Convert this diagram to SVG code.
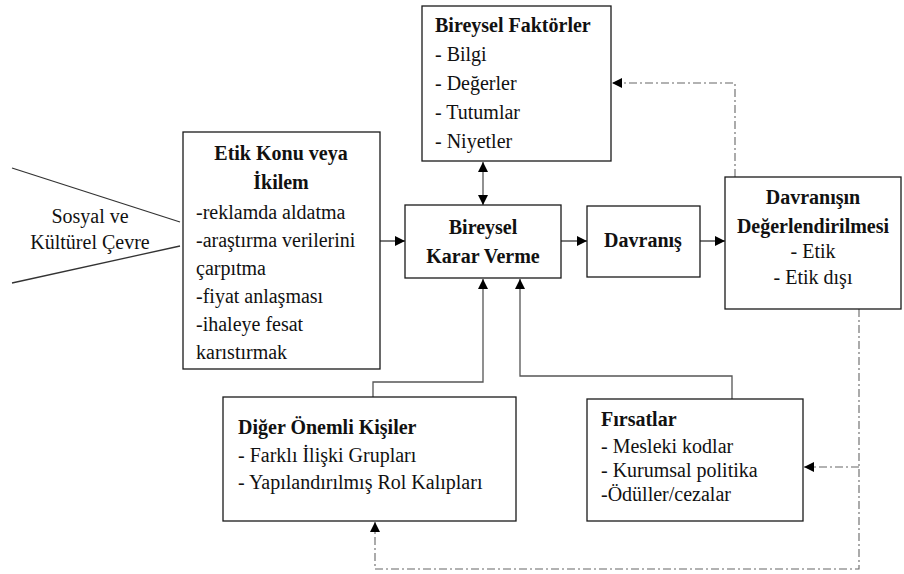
<svg xmlns="http://www.w3.org/2000/svg" width="904" height="574" viewBox="0 0 904 574">
  <defs>
    <marker id="arrow" viewBox="0 0 10 10" refX="10" refY="5" markerWidth="10" markerHeight="10" markerUnits="userSpaceOnUse" orient="auto-start-reverse">
      <path d="M0,0 L10,5 L0,10 z" fill="#000"/>
    </marker>
  </defs>

  <!-- connectors -->
  <g id="connectors" fill="none" stroke-width="1.3">
    <!-- social/cultural environment wedge -->
    <g stroke="#333">
      <line x1="12" y1="168" x2="180" y2="222"/>
      <line x1="12" y1="283" x2="180" y2="246"/>
      <!-- main flow -->
      <line x1="380" y1="241" x2="405" y2="241" marker-end="url(#arrow)"/>
      <line x1="561" y1="241" x2="587" y2="241" marker-end="url(#arrow)"/>
      <line x1="700" y1="241" x2="725" y2="241" marker-end="url(#arrow)"/>
    </g>
    <g stroke="#555">
      <!-- individual factors <-> decision -->
      <line x1="483" y1="162" x2="483" y2="205" marker-start="url(#arrow)" marker-end="url(#arrow)"/>
      <!-- significant others -> decision -->
      <polyline points="373,397 373,382 483,382 483,279" marker-end="url(#arrow)"/>
      <!-- opportunities -> decision -->
      <polyline points="732,399 732,376 520,376 520,279" marker-end="url(#arrow)"/>
    </g>
    <!-- feedback loops -->
    <g stroke="#666" stroke-width="1.1" stroke-dasharray="8 3 2 3">
      <polyline points="735,177 735,83 612,83" marker-end="url(#arrow)"/>
      <polyline points="859,309 859,569 375,569 375,522" marker-end="url(#arrow)"/>
      <line x1="859" y1="467" x2="804" y2="467" marker-end="url(#arrow)"/>
    </g>
  </g>

  <g fill="#111">
    <g id="cevre" text-anchor="middle">
      <text font-family="Liberation Serif" font-size="20" x="90" y="223">Sosyal ve</text>
      <text font-family="Liberation Serif" font-size="20" x="90" y="249">Kültürel Çevre</text>
    </g>

    <g id="etik-konu">
      <rect x="183" y="132" width="197" height="237" fill="#fff" stroke="#1a1a1a" stroke-width="1.3"/>
      <g font-weight="bold" text-anchor="middle">
        <text font-family="Liberation Serif" font-size="20" font-weight="bold" x="281" y="160">Etik Konu veya</text>
        <text font-family="Liberation Serif" font-size="20" font-weight="bold" x="281" y="189">İkilem</text>
      </g>
      <text font-family="Liberation Serif" font-size="20" x="196" y="219">-reklamda aldatma</text>
      <text font-family="Liberation Serif" font-size="20" x="196" y="247">-araştırma verilerini</text>
      <text font-family="Liberation Serif" font-size="20" x="196" y="275">çarpıtma</text>
      <text font-family="Liberation Serif" font-size="20" x="196" y="303">-fiyat anlaşması</text>
      <text font-family="Liberation Serif" font-size="20" x="196" y="331">-ihaleye fesat</text>
      <text font-family="Liberation Serif" font-size="20" x="196" y="359">karıstırmak</text>
    </g>

    <g id="bireysel-faktorler">
      <rect x="422" y="6" width="189" height="155" fill="#fff" stroke="#1a1a1a" stroke-width="1.3"/>
      <text font-family="Liberation Serif" font-size="20" font-weight="bold" x="435" y="32">Bireysel Faktörler</text>
      <text font-family="Liberation Serif" font-size="20" x="435" y="61">- Bilgi</text>
      <text font-family="Liberation Serif" font-size="20" x="435" y="90">- Değerler</text>
      <text font-family="Liberation Serif" font-size="20" x="435" y="119">- Tutumlar</text>
      <text font-family="Liberation Serif" font-size="20" x="435" y="148">- Niyetler</text>
    </g>

    <g id="karar-verme" text-anchor="middle">
      <rect x="405" y="205" width="156" height="73" fill="#fff" stroke="#1a1a1a" stroke-width="1.3"/>
      <text font-family="Liberation Serif" font-size="20" font-weight="bold" x="483" y="234">Bireysel</text>
      <text font-family="Liberation Serif" font-size="20" font-weight="bold" x="483" y="263">Karar Verme</text>
    </g>

    <g id="davranis" text-anchor="middle">
      <rect x="587" y="206" width="113" height="71" fill="#fff" stroke="#1a1a1a" stroke-width="1.3"/>
      <text font-family="Liberation Serif" font-size="20" font-weight="bold" x="643" y="247">Davranış</text>
    </g>

    <g id="degerlendirme" text-anchor="middle">
      <rect x="725" y="177" width="176" height="132" fill="#fff" stroke="#1a1a1a" stroke-width="1.3"/>
      <text font-family="Liberation Serif" font-size="20" font-weight="bold" x="813" y="204">Davranışın</text>
      <text font-family="Liberation Serif" font-size="20" font-weight="bold" x="813" y="233">Değerlendirilmesi</text>
      <text font-family="Liberation Serif" font-size="20" x="813" y="258">- Etik</text>
      <text font-family="Liberation Serif" font-size="20" x="813" y="284">- Etik dışı</text>
    </g>

    <g id="onemli-kisiler">
      <rect x="223" y="397" width="293" height="124" fill="#fff" stroke="#1a1a1a" stroke-width="1.3"/>
      <text font-family="Liberation Serif" font-size="20" font-weight="bold" x="238" y="434">Diğer Önemli Kişiler</text>
      <text font-family="Liberation Serif" font-size="20" x="238" y="462">- Farklı İlişki Grupları</text>
      <text font-family="Liberation Serif" font-size="20" x="238" y="489">- Yapılandırılmış Rol Kalıpları</text>
    </g>

    <g id="firsatlar">
      <rect x="587" y="399" width="216" height="122" fill="#fff" stroke="#1a1a1a" stroke-width="1.3"/>
      <text font-family="Liberation Serif" font-size="20" font-weight="bold" x="601" y="426">Fırsatlar</text>
      <text font-family="Liberation Serif" font-size="20" x="601" y="453">- Mesleki kodlar</text>
      <text font-family="Liberation Serif" font-size="20" x="601" y="477">- Kurumsal politika</text>
      <text font-family="Liberation Serif" font-size="20" x="601" y="501">-Ödüller/cezalar</text>
    </g>
  </g>
</svg>
